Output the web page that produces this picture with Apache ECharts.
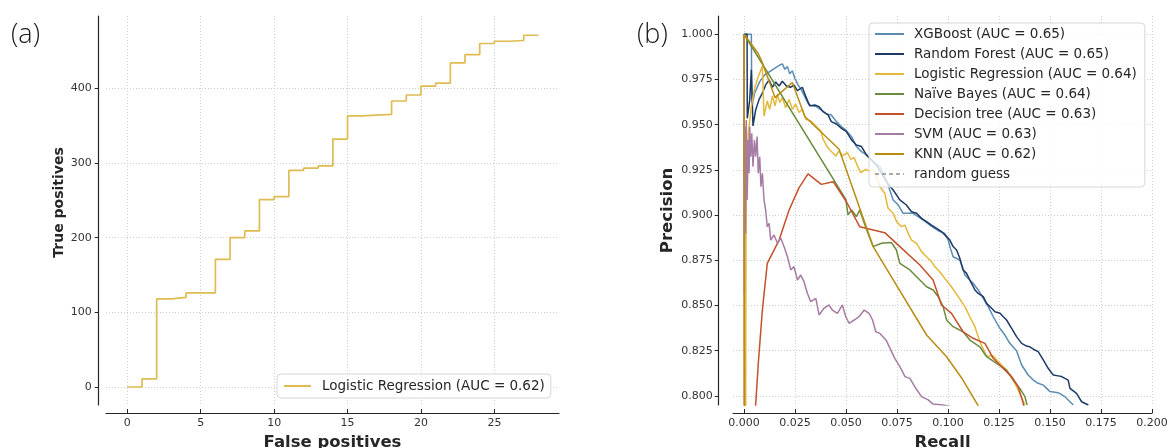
<!DOCTYPE html>
<html>
<head>
<meta charset="utf-8">
<script src="https://cdn.jsdelivr.net/npm/echarts@6/dist/echarts.min.js"></script>
<style>
  html, body { margin: 0; padding: 0; background: #ffffff; }
  #chart { width: 1170px; height: 448px; }
</style>
</head>
<body>
<div id="chart"></div>
<script>
// ---------- (a) cumulative true positives vs false positives ----------
const fpCounts = [0, 1, 2, 3, 4, 5, 6, 7, 8, 9, 10, 11, 12, 13, 14, 15, 16, 17, 18, 19, 20, 21, 22, 23, 24, 25, 26, 27, 28];
const tpCounts = [0, 11, 118, 120, 126, 126, 171, 200, 209, 251, 255, 290, 293, 296, 332, 363, 364, 365, 383, 391, 403, 407, 434, 445, 460, 463, 464, 471, 471];
const fpTicks = [0, 5, 10, 15, 20, 25];
const tpTicks = [0, 100, 200, 300, 400];

// ---------- (b) precision-recall curves, [recall, precision] ----------
const xgboost = [[0,1],[0.0036,1],[0.0038,0.9600],[0.0052,0.9674],[0.0077,0.9738],[0.0101,0.9775],[0.0126,0.9794],[0.0150,0.9812],[0.0175,0.9830],[0.0188,0.9836],[0.0200,0.9806],[0.0213,0.9821],[0.0224,0.9781],[0.0237,0.9799],[0.0249,0.9757],[0.0265,0.9720],[0.0281,0.9692],[0.0298,0.9655],[0.0314,0.9618],[0.0330,0.9604],[0.0355,0.9600],[0.0379,0.9581],[0.0404,0.9559],[0.0428,0.9554],[0.0453,0.9517],[0.0478,0.9489],[0.0502,0.9467],[0.0527,0.9434],[0.0551,0.9379],[0.0576,0.9351],[0.0600,0.9333],[0.0633,0.9296],[0.0666,0.9268],[0.0698,0.9194],[0.0731,0.9084],[0.0756,0.9056],[0.0780,0.9010],[0.0829,0.9010],[0.0878,0.8973],[0.0911,0.8945],[0.0935,0.8927],[0.0960,0.8909],[0.0984,0.8899],[0.1001,0.8862],[0.1012,0.8816],[0.1025,0.8770],[0.1058,0.8752],[0.1083,0.8669],[0.1099,0.8650],[0.1123,0.8623],[0.1148,0.8586],[0.1173,0.8540],[0.1197,0.8494],[0.1222,0.8438],[0.1254,0.8374],[0.1279,0.8337],[0.1303,0.8291],[0.1336,0.8250],[0.1361,0.8171],[0.1393,0.8116],[0.1418,0.8088],[0.1442,0.8070],[0.1467,0.8060],[0.1500,0.8024],[0.1540,0.8018],[0.1573,0.7996],[0.1614,0.7950]];

const randomForest = [[0,1],[0.0015,1],[0.0016,0.9535],[0.0028,0.9637],[0.0036,0.9803],[0.0044,0.9493],[0.0057,0.9581],[0.0074,0.9640],[0.0090,0.9674],[0.0106,0.9720],[0.0123,0.9747],[0.0139,0.9707],[0.0155,0.9736],[0.0172,0.9714],[0.0188,0.9740],[0.0208,0.9714],[0.0227,0.9707],[0.0245,0.9718],[0.0262,0.9688],[0.0286,0.9707],[0.0303,0.9655],[0.0322,0.9604],[0.0347,0.9609],[0.0368,0.9600],[0.0388,0.9572],[0.0412,0.9554],[0.0428,0.9517],[0.0453,0.9504],[0.0478,0.9480],[0.0502,0.9462],[0.0527,0.9416],[0.0551,0.9388],[0.0576,0.9379],[0.0600,0.9333],[0.0625,0.9305],[0.0649,0.9277],[0.0674,0.9231],[0.0698,0.9185],[0.0731,0.9139],[0.0764,0.9084],[0.0796,0.9056],[0.0821,0.9019],[0.0846,0.9010],[0.0870,0.8982],[0.0895,0.8964],[0.0919,0.8945],[0.0944,0.8927],[0.0968,0.8909],[0.0993,0.8881],[0.1009,0.8862],[0.1025,0.8826],[0.1042,0.8807],[0.1058,0.8761],[0.1074,0.8697],[0.1091,0.8678],[0.1107,0.8641],[0.1132,0.8586],[0.1148,0.8567],[0.1173,0.8549],[0.1189,0.8512],[0.1214,0.8485],[0.1230,0.8466],[0.1255,0.8457],[0.1271,0.8438],[0.1287,0.8420],[0.1312,0.8374],[0.1336,0.8328],[0.1361,0.8291],[0.1385,0.8276],[0.1401,0.8272],[0.1426,0.8254],[0.1442,0.8245],[0.1467,0.8199],[0.1491,0.8153],[0.1516,0.8116],[0.1540,0.8111],[0.1557,0.8107],[0.1589,0.8088],[0.1598,0.8042],[0.1630,0.8014],[0.1655,0.7968],[0.1688,0.7950]];

const logisticRegression = [[0.0008,0.7793],[0.0010,0.9084],[0.0016,0.9102],[0.0021,0.9452],[0.0036,0.9600],[0.0052,0.9701],[0.0069,0.9762],[0.0090,0.9825],[0.0098,0.9548],[0.0114,0.9631],[0.0126,0.9585],[0.0139,0.9659],[0.0152,0.9604],[0.0164,0.9668],[0.0175,0.9622],[0.0188,0.9650],[0.0204,0.9594],[0.0221,0.9640],[0.0237,0.9585],[0.0253,0.9613],[0.0270,0.9567],[0.0286,0.9585],[0.0303,0.9530],[0.0327,0.9521],[0.0352,0.9493],[0.0376,0.9465],[0.0388,0.9419],[0.0401,0.9392],[0.0417,0.9364],[0.0433,0.9346],[0.0450,0.9327],[0.0466,0.9355],[0.0482,0.9327],[0.0507,0.9346],[0.0523,0.9309],[0.0540,0.9318],[0.0556,0.9272],[0.0572,0.9235],[0.0597,0.9253],[0.0613,0.9244],[0.0633,0.9250],[0.0649,0.9216],[0.0666,0.9157],[0.0690,0.9121],[0.0706,0.9038],[0.0731,0.9010],[0.0748,0.8964],[0.0772,0.8936],[0.0789,0.8945],[0.0805,0.8899],[0.0821,0.8862],[0.0846,0.8844],[0.0870,0.8798],[0.0895,0.8770],[0.0919,0.8743],[0.0935,0.8715],[0.0960,0.8687],[0.0984,0.8650],[0.1017,0.8604],[0.1050,0.8549],[0.1083,0.8494],[0.1107,0.8438],[0.1132,0.8383],[0.1148,0.8328],[0.1156,0.8300],[0.1189,0.8221],[0.1222,0.8221],[0.1254,0.8180],[0.1287,0.8143],[0.1328,0.8070],[0.1352,0.8014],[0.1377,0.7950]];

const naiveBayes = [[0,1],[0.0499,0.9087],[0.0510,0.9001],[0.0527,0.9028],[0.0551,0.8992],[0.0567,0.9028],[0.0584,0.8973],[0.0608,0.8899],[0.0633,0.8826],[0.0674,0.8844],[0.0723,0.8848],[0.0747,0.8807],[0.0764,0.8733],[0.0813,0.8697],[0.0862,0.8641],[0.0895,0.8604],[0.0927,0.8586],[0.0952,0.8549],[0.0976,0.8494],[0.0993,0.8420],[0.1025,0.8383],[0.1074,0.8355],[0.1107,0.8309],[0.1156,0.8272],[0.1189,0.8217],[0.1238,0.8180],[0.1287,0.8143],[0.1320,0.8088],[0.1352,0.8042],[0.1377,0.7996],[0.1388,0.7950]];

const decisionTree = [[0,1],[0.0003,0.62],[0.0057,0.7950],[0.0070,0.8180],[0.0090,0.8475],[0.0114,0.8733],[0.0172,0.8862],[0.0221,0.9028],[0.0270,0.9152],[0.0314,0.9228],[0.0379,0.9170],[0.0437,0.9185],[0.0502,0.9074],[0.0567,0.8936],[0.0690,0.8903],[0.0764,0.8826],[0.0862,0.8724],[0.0927,0.8641],[0.0968,0.8503],[0.1017,0.8457],[0.1074,0.8355],[0.1123,0.8319],[0.1181,0.8291],[0.1222,0.8208],[0.1262,0.8162],[0.1312,0.8107],[0.1344,0.8051],[0.1369,0.7959],[0.1377,0.7904]];

const svm = [[0,1],[0.0002,0.8567],[0.0005,0.9489],[0.0008,0.8899],[0.0011,0.9526],[0.0015,0.9084],[0.0020,0.9416],[0.0025,0.9231],[0.0028,0.9489],[0.0033,0.9323],[0.0038,0.9452],[0.0044,0.9268],[0.0051,0.9416],[0.0057,0.9323],[0.0064,0.9434],[0.0070,0.9231],[0.0077,0.9323],[0.0083,0.9157],[0.0090,0.9231],[0.0098,0.9084],[0.0106,0.9028],[0.0114,0.8936],[0.0123,0.8954],[0.0131,0.8862],[0.0147,0.8890],[0.0164,0.8844],[0.0180,0.8873],[0.0196,0.8826],[0.0213,0.8770],[0.0229,0.8697],[0.0245,0.8715],[0.0262,0.8641],[0.0278,0.8669],[0.0294,0.8632],[0.0311,0.8567],[0.0327,0.8521],[0.0352,0.8540],[0.0368,0.8448],[0.0392,0.8485],[0.0417,0.8503],[0.0433,0.8475],[0.0458,0.8457],[0.0482,0.8503],[0.0499,0.8438],[0.0515,0.8402],[0.0540,0.8420],[0.0564,0.8438],[0.0589,0.8475],[0.0613,0.8457],[0.0630,0.8420],[0.0646,0.8355],[0.0666,0.8346],[0.0698,0.8306],[0.0739,0.8208],[0.0764,0.8162],[0.0789,0.8107],[0.0813,0.8097],[0.0837,0.8051],[0.0870,0.7996],[0.0903,0.7978],[0.0927,0.7955],[0.0976,0.7950],[0.1017,0.7941]];

const knn = [[0.0002,0.7800],[0.0002,0.8570],[0,1],[0.0069,0.9895],[0.0090,0.9843],[0.0152,0.9650],[0.0237,0.9733],[0.0298,0.9545],[0.0466,0.9364],[0.0633,0.8826],[0.0895,0.8337],[0.0993,0.8217],[0.1066,0.8101],[0.1156,0.7931]];

const randomGuess = [];

const recallTicks = [0, 0.025, 0.05, 0.075, 0.1, 0.125, 0.15, 0.175, 0.2];
const precisionTicks = [0.8, 0.825, 0.85, 0.875, 0.9, 0.925, 0.95, 0.975, 1.0];

const models = [
  { name: 'XGBoost (AUC = 0.65)',             data: xgboost,            color: '#5b8cb3' },
  { name: 'Random Forest (AUC = 0.65)',       data: randomForest,       color: '#1d3a66' },
  { name: 'Logistic Regression (AUC = 0.64)', data: logisticRegression, color: '#e4b93b' },
  { name: 'Naïve Bayes (AUC = 0.64)',         data: naiveBayes,         color: '#6b8b3f' },
  { name: 'Decision tree (AUC = 0.63)',       data: decisionTree,       color: '#c2512c' },
  { name: 'SVM (AUC = 0.63)',                 data: svm,                color: '#a77ca4' },
  { name: 'KNN (AUC = 0.62)',                 data: knn,                color: '#b88d14' }
];
const leftName = 'Logistic Regression (AUC = 0.62)';

// ---------- styling ----------
const FONT = 'DejaVu Sans';
const INK = '#262626';
const spine = { show: true, onZero: false, lineStyle: { color: INK, width: 1.2 } };
const grid = { show: true, lineStyle: { color: '#cfcfcf', width: 1, type: [1, 2] } };
const tickLabel = { fontFamily: FONT, fontSize: 11, color: '#333333' };
const titleStyle = { fontFamily: FONT, fontWeight: 'bold', color: INK };
const legendText = { fontFamily: FONT, fontSize: 13.5, color: INK, lineHeight: 16 };
// legend keys show only the line, no marker
const legendKey = { color: 'rgba(0,0,0,0)', borderWidth: 0, opacity: 0 };

const chart = echarts.init(document.getElementById('chart'), null, { renderer: 'canvas' });

const series = [
  {
    name: leftName, type: 'line', xAxisIndex: 0, yAxisIndex: 0,
    step: 'end', symbol: 'none',
    data: fpCounts.map((fp, i) => [fp, tpCounts[i]]),
    itemStyle: { color: '#dfbc52' },
    lineStyle: { color: '#dfbc52', width: 1.7 }
  }
];
models.forEach(m => series.push({
  name: m.name, type: 'line', xAxisIndex: 1, yAxisIndex: 1,
  symbol: 'none', data: m.data,
  itemStyle: { color: m.color },
  lineStyle: { color: m.color, width: 1.5 }
}));
series.push({
  name: 'random guess', type: 'line', xAxisIndex: 1, yAxisIndex: 1,
  symbol: 'none', data: randomGuess,
  itemStyle: { color: '#a9a9a9' },
  lineStyle: { color: '#a9a9a9', width: 1.3, type: [4, 3] }
});

const option = {
  animation: false,
  backgroundColor: '#ffffff',
  textStyle: { fontFamily: FONT },
  grid: [
    { left: 106, top: 16, width: 453, height: 389, outerBoundsMode: 'none', containLabel: false },
    { left: 733, top: 16, width: 419, height: 389, outerBoundsMode: 'none', containLabel: false }
  ],
  xAxis: [
    {
      gridIndex: 0, type: 'value', min: -1.45, max: 29.4, offset: 8,
      axisLine: spine,
      axisTick: { show: true, inside: true, length: 4, lineStyle: { color: INK }, customValues: fpTicks },
      axisLabel: Object.assign({ margin: 5, customValues: fpTicks }, tickLabel),
      splitLine: grid,
      name: 'False positives', nameLocation: 'middle', nameGap: 17,
      nameTextStyle: Object.assign({ fontSize: 16.5 }, titleStyle)
    },
    {
      gridIndex: 1, type: 'value', min: -0.0054, max: 0.2, offset: 8,
      axisLine: spine,
      axisTick: { show: true, inside: true, length: 4, lineStyle: { color: INK }, customValues: recallTicks },
      axisLabel: Object.assign({ margin: 5, customValues: recallTicks, formatter: v => v.toFixed(3) }, tickLabel),
      splitLine: grid,
      name: 'Recall', nameLocation: 'middle', nameGap: 17,
      nameTextStyle: Object.assign({ fontSize: 16.5 }, titleStyle)
    }
  ],
  yAxis: [
    {
      gridIndex: 0, type: 'value', min: -24.1, max: 496.8, offset: 7.3,
      axisLine: spine,
      axisTick: { show: true, inside: false, length: 4, lineStyle: { color: INK }, customValues: tpTicks },
      axisLabel: Object.assign({ margin: 7, customValues: tpTicks }, tickLabel),
      splitLine: grid,
      name: 'True positives', nameLocation: 'middle', nameGap: 31,
      nameTextStyle: Object.assign({ fontSize: 14, padding: [0, 0, 0, 16] }, titleStyle)
    },
    {
      gridIndex: 1, type: 'value', min: 0.795, max: 1.0101, offset: 14.3,
      axisLine: spine,
      axisTick: { show: true, inside: false, length: 4, lineStyle: { color: INK }, customValues: precisionTicks },
      axisLabel: Object.assign({ margin: 6, customValues: precisionTicks, formatter: v => v.toFixed(3) }, tickLabel),
      splitLine: grid,
      name: 'Precision', nameLocation: 'middle', nameGap: 42,
      nameTextStyle: Object.assign({ fontSize: 16.5 }, titleStyle)
    }
  ],
  legend: [
    {
      data: [leftName], orient: 'vertical', left: 277, top: 374,
      padding: [4, 6, 4, 6], itemWidth: 27, itemHeight: 14, itemGap: 4,
      itemStyle: legendKey,
      backgroundColor: 'rgba(255,255,255,0.8)', borderColor: '#d6d6d6', borderWidth: 1, borderRadius: 4,
      textStyle: Object.assign({ padding: [0, 0, 0, 6] }, legendText)
    },
    {
      data: models.map(m => m.name).concat(['random guess']), orient: 'vertical', left: 869, top: 23,
      padding: [3, 8, 5, 5], itemWidth: 29, itemHeight: 14, itemGap: 4,
      itemStyle: legendKey,
      backgroundColor: 'rgba(255,255,255,0.8)', borderColor: '#d6d6d6', borderWidth: 1, borderRadius: 4,
      textStyle: Object.assign({ padding: [0, 0, 0, 5] }, legendText)
    }
  ],
  graphic: [
    { type: 'text', left: 11, top: 22, style: { text: '(a)', fontFamily: 'Open Sans', fontWeight: 300, fontSize: 27, fill: '#1a1a1a' } },
    { type: 'text', left: 637, top: 22, style: { text: '(b)', fontFamily: 'Open Sans', fontWeight: 300, fontSize: 27, fill: '#1a1a1a' } }
  ],
  series: series
};

chart.setOption(option);
</script>
</body>
</html>
